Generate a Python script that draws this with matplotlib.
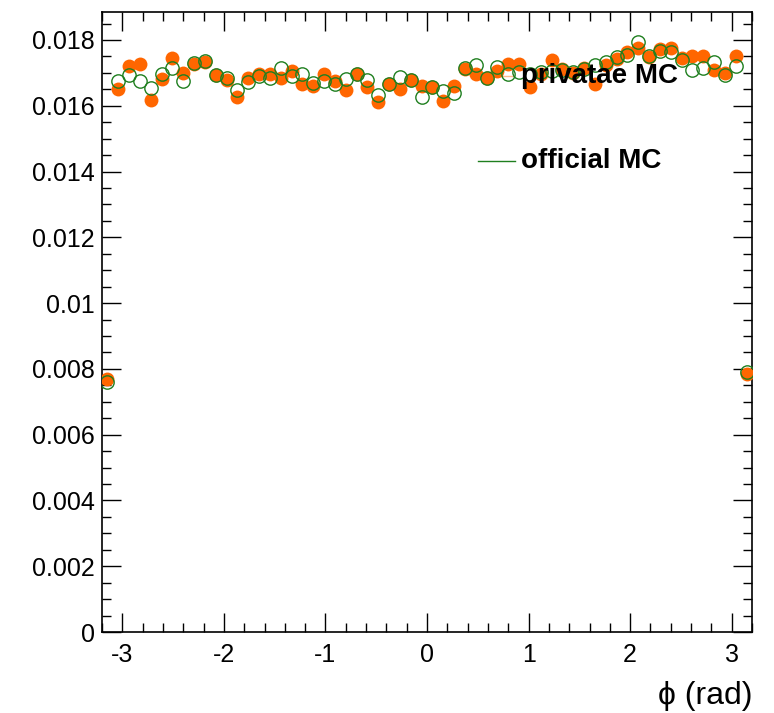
import numpy as np
import matplotlib
matplotlib.use("Agg")
import matplotlib.pyplot as plt
from matplotlib.ticker import MultipleLocator, FormatStrFormatter

plt.rcParams["font.family"] = ["Liberation Sans", "DejaVu Sans"]
plt.rcParams["axes.unicode_minus"] = False

# phi histogram: 60 bins over [-3.2, 3.2]
n_bins = 60
phi_range = (-3.2, 3.2)

private_mc = [
    0.00770, 0.01652, 0.01720, 0.01726, 0.01616, 0.01680, 0.01746, 0.01700,
    0.01728, 0.01733, 0.01693, 0.01677, 0.01627, 0.01685, 0.01697, 0.01695,
    0.01683, 0.01705, 0.01666, 0.01660, 0.01696, 0.01674, 0.01647, 0.01697,
    0.01657, 0.01612, 0.01665, 0.01652, 0.01677, 0.01660, 0.01656, 0.01614,
    0.01659, 0.01712, 0.01697, 0.01684, 0.01707, 0.01727, 0.01727, 0.01658,
    0.01697, 0.01740, 0.01712, 0.01700, 0.01716, 0.01667, 0.01725, 0.01742,
    0.01762, 0.01776, 0.01748, 0.01772, 0.01777, 0.01746, 0.01752, 0.01750,
    0.01710, 0.01700, 0.01750, 0.00785,
]

official_mc = [
    0.00760, 0.01675, 0.01694, 0.01674, 0.01655, 0.01695, 0.01714, 0.01676,
    0.01730, 0.01735, 0.01692, 0.01683, 0.01648, 0.01672, 0.01690, 0.01683,
    0.01715, 0.01689, 0.01697, 0.01670, 0.01675, 0.01667, 0.01682, 0.01695,
    0.01677, 0.01632, 0.01665, 0.01687, 0.01677, 0.01626, 0.01657, 0.01644,
    0.01639, 0.01714, 0.01725, 0.01684, 0.01719, 0.01697, 0.01704, 0.01695,
    0.01702, 0.01707, 0.01710, 0.01702, 0.01712, 0.01724, 0.01733, 0.01747,
    0.01755, 0.01794, 0.01750, 0.01767, 0.01762, 0.01740, 0.01710, 0.01714,
    0.01732, 0.01694, 0.01722, 0.00790,
]

edges = np.linspace(phi_range[0], phi_range[1], n_bins + 1)
centers = 0.5 * (edges[:-1] + edges[1:])

col_private = "#ff6600"
col_official = "#1f7f1f"

fig = plt.figure(figsize=(7.74, 7.13), dpi=100, facecolor="white")
ax = fig.add_axes([102 / 774, 1 - 632 / 713, 650 / 774, 620 / 713])

ax.plot(centers, private_mc, linestyle="none", marker="o", markersize=10,
        color=col_private, markeredgewidth=0, zorder=3)
ax.plot(centers, official_mc, linestyle="none", marker="o", markersize=9.6,
        markerfacecolor="none", markeredgecolor=col_official,
        markeredgewidth=1.0, zorder=4)

ax.set_xlim(*phi_range)
ax.set_ylim(0, 0.01885)

# ROOT-like frame: ticks inside on all four sides
ax.xaxis.set_major_locator(MultipleLocator(1))
ax.xaxis.set_minor_locator(MultipleLocator(0.2))
ax.yaxis.set_major_locator(MultipleLocator(0.002))
ax.yaxis.set_minor_locator(MultipleLocator(0.0005))
ax.yaxis.set_major_formatter(FormatStrFormatter("%g"))
ax.xaxis.set_major_formatter(FormatStrFormatter("%g"))
ax.tick_params(which="both", direction="in", top=True, right=True,
               width=1.0, labelsize=18)
ax.tick_params(which="major", length=13.5)
ax.tick_params(which="minor", length=6.8)
ax.tick_params(axis="x", which="major", pad=8)
ax.tick_params(axis="y", which="major", pad=5)
for spine in ax.spines.values():
    spine.set_linewidth(1.2)

ax.set_xlabel("ϕ (rad)", loc="right", fontsize=23, labelpad=10)

# legend drawn by hand in axes coordinates
ax.plot([0.566, 0.632], [0.8968, 0.8968], transform=ax.transAxes,
        color=col_private, alpha=0.45, lw=1.0, zorder=2)
ax.text(0.6446, 0.8968, "privatae MC", transform=ax.transAxes,
        fontsize=20, fontweight="bold", ha="left", va="center", zorder=5)
ax.plot([0.578, 0.635], [0.7597, 0.7597], transform=ax.transAxes,
        color=col_official, lw=1.0, zorder=2)
ax.text(0.6446, 0.7597, "official MC", transform=ax.transAxes,
        fontsize=20, fontweight="bold", ha="left", va="center", zorder=5)

fig.savefig("out.png", dpi=100, facecolor="white")
